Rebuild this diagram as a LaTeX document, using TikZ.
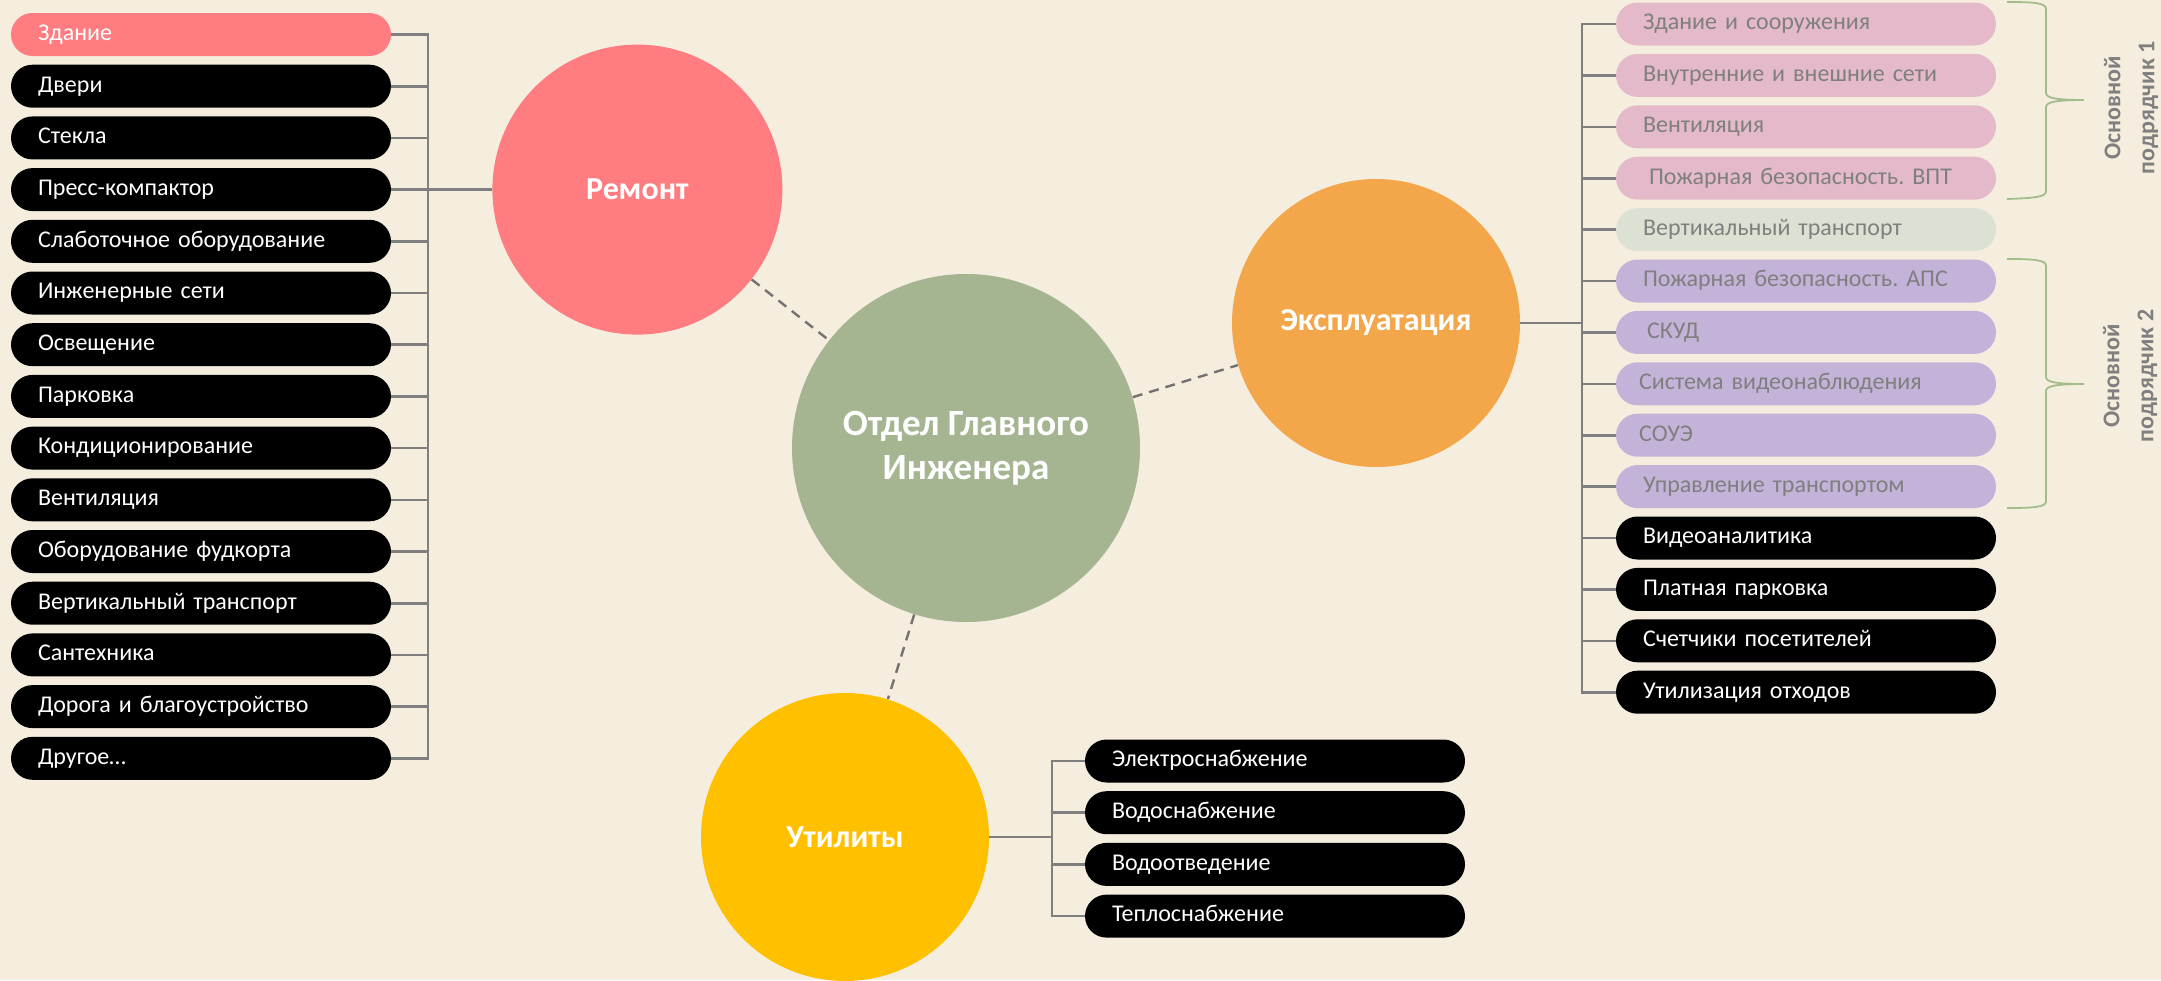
\documentclass[tikz,border=0pt]{standalone}
\usepackage{fontspec}
\setmainfont{Carlito}
\usepackage{tikz}
\usetikzlibrary{positioning}
\frenchspacing

\definecolor{bg}{HTML}{F5EEDF}
\definecolor{linegray}{HTML}{7F7F7F}
\definecolor{dashgray}{HTML}{767171}
\definecolor{remcol}{HTML}{FF7C80}
\definecolor{ogicol}{HTML}{A5B592}
\definecolor{expcol}{HTML}{F3A74A}
\definecolor{utilcol}{HTML}{FFC000}
\definecolor{pinkcol}{HTML}{E4BACA}
\definecolor{greencol}{HTML}{DCE2D3}
\definecolor{lilaccol}{HTML}{C4B3D9}
\definecolor{bracecol}{HTML}{A2BD8A}

\begin{document}
\begin{tikzpicture}[x=0.5pt, y=0.5pt,
		item/.style={ % pill with text on the left
				rectangle, rounded corners=10.75pt,
				minimum width=190pt, minimum height=21.5pt,
				text width=163pt, align=left, inner xsep=13.5pt, inner ysep=0pt,
				outer sep=0pt, text height=8.6pt, text depth=2.8pt,
				font=\fontsize{12}{14}\selectfont
			},
		blk/.style={item, fill=black, text=white},
		pnk/.style={item, fill=pinkcol, text=linegray},
		grn/.style={item, fill=greencol, text=linegray},
		lil/.style={item, fill=lilaccol, text=linegray},
		krug/.style={circle, inner sep=0pt, text=white,
				font=\bfseries\fontsize{16}{19}\selectfont},
		conn/.style={draw=linegray, line width=1.3pt},
		link/.style={draw=dashgray, line width=1.2pt, dash pattern=on 5pt off 3.5pt},
		bracket/.style={draw=bracecol, line width=0.9pt},
		note/.style={rotate=90, text=linegray, align=center,
				font=\bfseries\fontsize{12}{17}\selectfont}
	]
	\useasboundingbox (0,0) rectangle (2161,-980);
	\fill[bg] (0,0) rectangle (2161,-980);

	% repair list (left)
	\node[item, fill=remcol, text=white, anchor=west] (r1) at (11,-34.5) {Здание};
	\node[blk, below=4.35pt of r1] (r2) {Двери};
	\node[blk, below=4.35pt of r2] (r3) {Стекла};
	\node[blk, below=4.35pt of r3] (r4) {Пресс-компактор};
	\node[blk, below=4.35pt of r4] (r5) {Слаботочное оборудование};
	\node[blk, below=4.35pt of r5] (r6) {Инженерные сети};
	\node[blk, below=4.35pt of r6] (r7) {Освещение};
	\node[blk, below=4.35pt of r7] (r8) {Парковка};
	\node[blk, below=4.35pt of r8] (r9) {Кондиционирование};
	\node[blk, below=4.35pt of r9] (r10) {Вентиляция};
	\node[blk, below=4.35pt of r10] (r11) {Оборудование фудкорта};
	\node[blk, below=4.35pt of r11] (r12) {Вертикальный транспорт};
	\node[blk, below=4.35pt of r12] (r13) {Сантехника};
	\node[blk, below=4.35pt of r13] (r14) {Дорога и благоустройство};
	\node[blk, below=4.35pt of r14] (r15) {Другое\ldots};

	% operation list (right)
	\node[pnk, anchor=west] (e1) at (1616,-24) {Здание и сооружения};
	\node[pnk, below=4.2pt of e1] (e2) {Внутренние и внешние сети};
	\node[pnk, below=4.2pt of e2] (e3) {Вентиляция};
	\node[pnk, below=4.2pt of e3] (e4) {\hspace{3pt}Пожарная безопасность. ВПТ};
	\node[grn, below=4.2pt of e4] (e5) {Вертикальный транспорт};
	\node[lil, below=4.2pt of e5] (e6) {Пожарная безопасность. АПС};
	\node[lil, below=4.2pt of e6] (e7) {\hspace{2pt}СКУД};
	\node[lil, below=4.2pt of e7] (e8) {\hspace{-2pt}Система видеонаблюдения};
	\node[lil, below=4.2pt of e8] (e9) {\hspace{-2pt}СОУЭ};
	\node[lil, below=4.2pt of e9] (e10) {Управление транспортом};
	\node[blk, below=4.2pt of e10] (e11) {Видеоаналитика};
	\node[blk, below=4.2pt of e11] (e12) {Платная парковка};
	\node[blk, below=4.2pt of e12] (e13) {Счетчики посетителей};
	\node[blk, below=4.2pt of e13] (e14) {Утилизация отходов};

	% utilities list
	\node[blk, anchor=west] (u1) at (1085,-761) {Электроснабжение};
	\node[blk, below=4.35pt of u1] (u2) {Водоснабжение};
	\node[blk, below=4.35pt of u2] (u3) {Водоотведение};
	\node[blk, below=4.35pt of u3] (u4) {Теплоснабжение};

	% circles
	\node[krug, fill=remcol, minimum size=145pt, right=50.5pt of r4] (remont) {Ремонт};
	\node[krug, fill=ogicol, minimum size=174pt, align=center,
		font=\bfseries\fontsize{18.5}{22}\selectfont] (ogi) at (966,-448) {Отдел Главного\\Инженера};
	\node[krug, fill=expcol, minimum size=144pt] (expl) at (1376,-323) {Эксплуатация};
	\node[krug, fill=utilcol, minimum size=144pt] (util) at (845,-837) {Утилиты};

	% buses
	\coordinate (lbus) at (428,0);
	\coordinate (rbus) at (1582,0);
	\coordinate (ubus) at (1052,0);

	\draw[conn] (r1.east) -| (r15.east -| lbus) -- (r15.east);
	\draw[conn] (r2.east) -- (r2.east -| lbus) (r3.east) -- (r3.east -| lbus)
	(r4.east) -- (r4.east -| lbus) (r5.east) -- (r5.east -| lbus)
	(r6.east) -- (r6.east -| lbus) (r7.east) -- (r7.east -| lbus)
	(r8.east) -- (r8.east -| lbus) (r9.east) -- (r9.east -| lbus)
	(r10.east) -- (r10.east -| lbus) (r11.east) -- (r11.east -| lbus)
	(r12.east) -- (r12.east -| lbus) (r13.east) -- (r13.east -| lbus)
	(r14.east) -- (r14.east -| lbus);
	\draw[conn] (remont.west) -- (remont.west -| lbus);

	\draw[conn] (e1.west) -| (e14.west -| rbus) -- (e14.west);
	\draw[conn] (e2.west) -- (e2.west -| rbus) (e3.west) -- (e3.west -| rbus)
	(e4.west) -- (e4.west -| rbus) (e5.west) -- (e5.west -| rbus)
	(e6.west) -- (e6.west -| rbus) (e7.west) -- (e7.west -| rbus)
	(e8.west) -- (e8.west -| rbus) (e9.west) -- (e9.west -| rbus)
	(e10.west) -- (e10.west -| rbus) (e11.west) -- (e11.west -| rbus)
	(e12.west) -- (e12.west -| rbus) (e13.west) -- (e13.west -| rbus);
	\draw[conn] (expl.east) -- (expl.east -| rbus);

	\draw[conn] (u1.west) -| (u4.west -| ubus) -- (u4.west);
	\draw[conn] (u2.west) -- (u2.west -| ubus) (u3.west) -- (u3.west -| ubus);
	\draw[conn] (util.east) -- (util.east -| ubus);

	% dashed links to the centre
	\draw[link] (remont) -- (ogi);
	\draw[link] (ogi) -- (expl);
	\draw[link] (ogi) -- (util);

	% braces
	\draw[bracket] (2007,-2) .. controls (2035,-2) and (2046,-3) .. (2046,-9)
	-- (2046,-93) .. controls (2046,-98) and (2056,-100) .. (2084,-100)
	.. controls (2056,-100) and (2046,-102) .. (2046,-107)
	-- (2046,-191) .. controls (2046,-197) and (2035,-198) .. (2007,-199);
	\draw[bracket] (2007,-259) .. controls (2035,-259) and (2046,-260) .. (2046,-266)
	-- (2046,-377) .. controls (2046,-382) and (2056,-384) .. (2084,-384)
	.. controls (2056,-384) and (2046,-386) .. (2046,-391)
	-- (2046,-501) .. controls (2046,-507) and (2035,-508) .. (2007,-508);
	\node[note] (sub1) at (2131,-108) {Основной\\подрядчик 1};
	\node[note] (sub2) at (2130,-376) {Основной\\подрядчик 2};
\end{tikzpicture}
\end{document}
